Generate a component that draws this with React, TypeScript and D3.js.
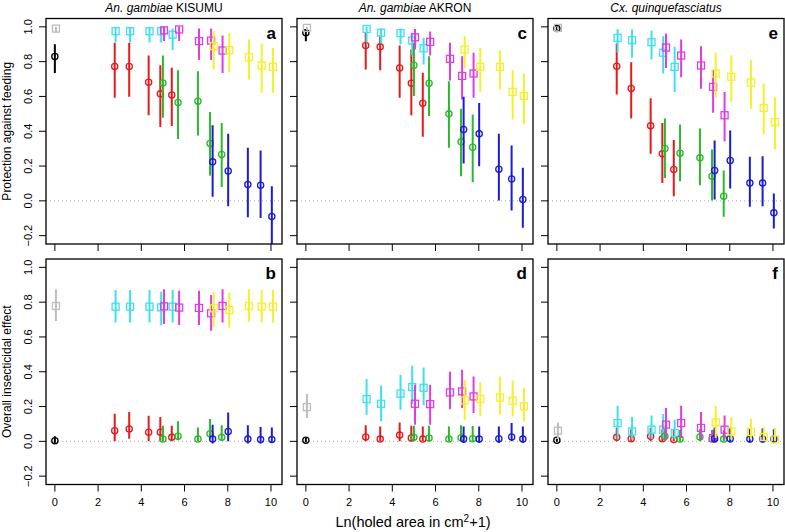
import * as d3 from 'd3'

// x positions (ln(holed area + 1)) for each hole-size series
const xBlack = [0]
const xGrey = [0.05]
const xRed = [2.77, 3.44, 4.34, 4.88, 5.41]
const xCyan = [2.81, 3.48, 4.38, 4.92, 5.45]
const xGreen = [5.0, 5.7, 6.62, 7.18, 7.72]
const xMagenta = [5.05, 5.75, 6.67, 7.23, 7.76]
const xBlue = [7.3, 8.02, 8.93, 9.52, 10.04]
const xYellow = [7.35, 8.07, 8.98, 9.57, 10.09]

// [estimate, lower, upper] for each point
const panelA = {
  black: [[0.83, 0.735, 0.9]],
  grey: [[0.99, 0.965, 1.0]],
  red: [[0.772, 0.592, 0.908], [0.772, 0.598, 0.908], [0.682, 0.492, 0.835], [0.615, 0.425, 0.78], [0.609, 0.43, 0.765]],
  cyan: [[0.975, 0.91, 0.995], [0.975, 0.91, 0.995], [0.975, 0.91, 0.995], [0.975, 0.91, 0.995], [0.955, 0.865, 0.99]],
  green: [[0.678, 0.477, 0.835], [0.565, 0.356, 0.751], [0.573, 0.375, 0.745], [0.33, 0.146, 0.51], [0.266, 0.079, 0.448]],
  magenta: [[0.98, 0.918, 1.0], [0.985, 0.918, 1.0], [0.918, 0.81, 0.99], [0.921, 0.81, 0.99], [0.864, 0.735, 0.95]],
  blue: [[0.224, 0.023, 0.435], [0.172, -0.031, 0.385], [0.094, -0.094, 0.305], [0.09, -0.098, 0.29], [-0.09, -0.3, 0.084]],
  yellow: [[0.889, 0.755, 0.975], [0.866, 0.74, 0.965], [0.826, 0.697, 0.927], [0.778, 0.621, 0.904], [0.77, 0.621, 0.879]],
}
const panelC = {
  black: [[0.966, 0.917, 0.985]],
  grey: [[0.994, 0.98, 1.0]],
  red: [[0.893, 0.755, 0.966], [0.885, 0.751, 0.95], [0.764, 0.592, 0.893], [0.676, 0.492, 0.87], [0.561, 0.368, 0.736]],
  cyan: [[0.988, 0.91, 1.0], [0.966, 0.905, 0.99], [0.964, 0.9, 0.99], [0.921, 0.837, 0.966], [0.877, 0.784, 0.937]],
  green: [[0.78, 0.602, 0.908], [0.676, 0.487, 0.831], [0.5, 0.305, 0.688], [0.339, 0.142, 0.529], [0.308, 0.107, 0.496]],
  magenta: [[0.94, 0.87, 0.988], [0.914, 0.835, 0.973], [0.816, 0.692, 0.908], [0.718, 0.582, 0.831], [0.732, 0.592, 0.851]],
  blue: [[0.41, 0.215, 0.598], [0.385, 0.199, 0.563], [0.182, 0.002, 0.385], [0.126, -0.056, 0.318], [0.008, -0.155, 0.19]],
  yellow: [[0.87, 0.764, 0.946], [0.77, 0.625, 0.879], [0.77, 0.64, 0.866], [0.626, 0.467, 0.751], [0.602, 0.443, 0.732]],
}
const panelE = {
  black: [[0.99, 0.98, 1.0]],
  grey: [[0.994, 0.985, 1.0]],
  red: [[0.774, 0.611, 0.904], [0.646, 0.473, 0.797], [0.431, 0.27, 0.59], [0.27, 0.103, 0.448], [0.18, 0.027, 0.349]],
  cyan: [[0.937, 0.851, 0.988], [0.923, 0.822, 0.985], [0.912, 0.812, 0.979], [0.851, 0.732, 0.946], [0.77, 0.625, 0.885]],
  green: [[0.301, 0.132, 0.473], [0.274, 0.113, 0.439], [0.247, 0.09, 0.416], [0.142, 0.002, 0.295], [0.027, -0.092, 0.174]],
  magenta: [[0.881, 0.764, 0.962], [0.835, 0.711, 0.927], [0.778, 0.644, 0.889], [0.655, 0.506, 0.755], [0.492, 0.343, 0.626]],
  blue: [[0.174, 0.008, 0.347], [0.232, 0.071, 0.404], [0.102, -0.034, 0.253], [0.102, -0.031, 0.257], [-0.069, -0.159, 0.042]],
  yellow: [[0.732, 0.592, 0.851], [0.713, 0.569, 0.835], [0.68, 0.529, 0.808], [0.534, 0.381, 0.674], [0.452, 0.295, 0.596]],
}
const panelB = {
  black: [[0.004, -0.01, 0.029]],
  grey: [[0.778, 0.692, 0.874]],
  red: [[0.061, 0, 0.159], [0.071, 0.015, 0.168], [0.052, 0, 0.147], [0.052, 0, 0.14], [0.023, 0, 0.09]],
  cyan: [[0.774, 0.683, 0.87], [0.774, 0.683, 0.87], [0.774, 0.683, 0.87], [0.77, 0.667, 0.86], [0.774, 0.683, 0.87]],
  green: [[0.013, 0, 0.09], [0.029, 0.006, 0.115], [0.013, 0, 0.08], [0.044, 0.01, 0.128], [0.023, 0.006, 0.092]],
  magenta: [[0.776, 0.675, 0.874], [0.769, 0.669, 0.866], [0.767, 0.669, 0.866], [0.736, 0.635, 0.841], [0.778, 0.683, 0.874]],
  blue: [[0.013, -0.013, 0.096], [0.057, 0, 0.166], [0.013, -0.013, 0.092], [0.01, -0.013, 0.082], [0.01, -0.01, 0.08]],
  yellow: [[0.765, 0.656, 0.86], [0.755, 0.654, 0.855], [0.778, 0.688, 0.874], [0.774, 0.683, 0.87], [0.774, 0.683, 0.87]],
}
const panelD = {
  black: [[0.006, -0.005, 0.02]],
  grey: [[0.197, 0.134, 0.272]],
  red: [[0.025, 0, 0.092], [0.013, 0, 0.086], [0.036, 0, 0.109], [0.019, 0, 0.09], [0.013, 0, 0.086]],
  cyan: [[0.243, 0.153, 0.358], [0.216, 0.115, 0.321], [0.274, 0.182, 0.382], [0.312, 0.216, 0.434], [0.308, 0.207, 0.425]],
  green: [[0.023, 0, 0.09], [0.019, 0, 0.09], [0.013, 0, 0.086], [0.021, 0, 0.092], [0.015, 0, 0.088]],
  magenta: [[0.216, 0.096, 0.325], [0.214, 0.096, 0.325], [0.281, 0.185, 0.4], [0.287, 0.191, 0.411], [0.258, 0.163, 0.373]],
  blue: [[0.013, -0.01, 0.086], [0.013, -0.01, 0.086], [0.015, -0.01, 0.086], [0.025, 0, 0.105], [0.013, -0.01, 0.086]],
  yellow: [[0.235, 0.124, 0.354], [0.243, 0.147, 0.339], [0.252, 0.153, 0.373], [0.233, 0.143, 0.35], [0.201, 0.115, 0.306]],
}
const panelF = {
  black: [[0.006, -0.003, 0.015]],
  grey: [[0.061, 0.013, 0.109]],
  red: [[0.023, 0, 0.077], [0.015, 0, 0.07], [0.029, 0, 0.077], [0.015, 0, 0.07], [0.011, 0, 0.065]],
  cyan: [[0.105, 0.01, 0.205], [0.057, 0.01, 0.14], [0.067, 0.013, 0.149], [0.067, 0.019, 0.157], [0.048, 0.013, 0.124]],
  green: [[0.029, 0, 0.07], [0.013, 0, 0.065], [0.025, 0, 0.07], [0.013, 0, 0.065], [0.013, 0, 0.065]],
  magenta: [[0.096, 0.006, 0.191], [0.105, 0.019, 0.205], [0.077, 0.01, 0.168], [0.019, -0.006, 0.067], [0.067, 0.01, 0.149]],
  blue: [[0.015, -0.006, 0.08], [0.015, -0.006, 0.08], [0.013, -0.006, 0.075], [0.013, -0.006, 0.075], [0.013, -0.006, 0.07]],
  yellow: [[0.109, 0.019, 0.205], [0.057, 0.01, 0.138], [0.054, 0.01, 0.13], [0.025, 0.006, 0.08], [0.011, 0, 0.077]],
}

const xTicks = [0, 2, 4, 6, 8, 10]
const yTicks = [-0.2, 0, 0.2, 0.4, 0.6, 0.8, 1.0]
const rowTitles = ['Protection against feeding', 'Overall insecticidal effect']

const series = [
  { key: 'black', xs: xBlack, color: '#000000', shape: 'circle' },
  { key: 'grey', xs: xGrey, color: '#bdbdbd', shape: 'square' },
  { key: 'red', xs: xRed, color: '#e41a1c', shape: 'circle' },
  { key: 'cyan', xs: xCyan, color: '#3ee0ef', shape: 'square' },
  { key: 'green', xs: xGreen, color: '#2cb82c', shape: 'circle' },
  { key: 'magenta', xs: xMagenta, color: '#e03ce3', shape: 'square' },
  { key: 'blue', xs: xBlue, color: '#1c1cd0', shape: 'circle' },
  { key: 'yellow', xs: xYellow, color: '#f4f02a', shape: 'square' },
]

const panels = [
  { id: 'a', data: panelA, col: 0, row: 0 },
  { id: 'c', data: panelC, col: 1, row: 0 },
  { id: 'e', data: panelE, col: 2, row: 0 },
  { id: 'b', data: panelB, col: 0, row: 1 },
  { id: 'd', data: panelD, col: 1, row: 1 },
  { id: 'f', data: panelF, col: 2, row: 1 },
]

const W = 785
const H = 532
const colLeft = [46, 297, 548]
const panelW = 236
const rowTop = [18.5, 259]
const panelH = 225.5
const font = '"Liberation Sans", Arial, Helvetica, sans-serif'

function Panel({ p }) {
  const x0 = colLeft[p.col]
  const y0 = rowTop[p.row]
  const x = d3.scaleLinear().domain([-0.41, 10.51]).range([x0, x0 + panelW])
  const y = d3.scaleLinear().domain([-0.248, 1.048]).range([y0 + panelH, y0])
  const clipId = `clip-${p.id}`
  return (
    <g>
      <clipPath id={clipId}>
        <rect x={x0} y={y0} width={panelW} height={panelH} />
      </clipPath>
      <line x1={x0} x2={x0 + panelW} y1={y(0)} y2={y(0)} stroke="#aaaaaa" strokeWidth={1} strokeDasharray="1,3" />
      <g clipPath={`url(#${clipId})`}>
        {series.map(s =>
          p.data[s.key].map((d, i) => {
            const cx = x(s.xs[i])
            const cy = y(d[0])
            return (
              <g key={`${s.key}-${i}`}>
                <line x1={cx} x2={cx} y1={y(d[1])} y2={y(d[2])} stroke={s.color} strokeWidth={2} />
                {s.shape === 'circle' ? (
                  <circle cx={cx} cy={cy} r={3.1} fill="none" stroke={s.color} strokeWidth={1.3} />
                ) : (
                  <rect x={cx - 3.5} y={cy - 3.5} width={7} height={7} fill="none" stroke={s.color} strokeWidth={1.3} />
                )}
              </g>
            )
          })
        )}
      </g>
      <rect x={x0} y={y0} width={panelW} height={panelH} fill="none" stroke="#000" strokeWidth={1.3} />
      {xTicks.map(t => (
        <line key={t} x1={x(t)} x2={x(t)} y1={y0 + panelH} y2={y0 + panelH + 7} stroke="#000" strokeWidth={1} />
      ))}
      {yTicks.map(t => (
        <line key={t} x1={x0 - 7} x2={x0} y1={y(t)} y2={y(t)} stroke="#000" strokeWidth={1} />
      ))}
      {p.row === 1 &&
        xTicks.map(t => (
          <text key={t} x={x(t)} y={506} textAnchor="middle" fontSize={11} fill="#000">
            {t}
          </text>
        ))}
      {p.col === 0 &&
        yTicks.map(t => (
          <text
            key={t}
            transform={`translate(32,${y(t)}) rotate(-90)`}
            textAnchor="middle"
            fontSize={11}
            fill="#000"
          >
            {d3.format('.1f')(t)}
          </text>
        ))}
      <text x={x0 + panelW - 6} y={38.5 + (y0 - rowTop[0])} textAnchor="end" fontSize={17} fontWeight="bold" fill="#000">
        {p.id}
      </text>
    </g>
  )
}

export default function App() {
  const cx = i => colLeft[i] + panelW / 2
  return (
    <svg width={W} height={H} style={{ display: 'block', position: 'absolute', left: 0, top: 0 }} fontFamily={font}>
      <rect width={W} height={H} fill="#fff" />
      <text x={cx(0)} y={12} textAnchor="middle" fontSize={12}>
        <tspan fontStyle="italic">An. gambiae</tspan> KISUMU
      </text>
      <text x={cx(1)} y={12} textAnchor="middle" fontSize={12}>
        <tspan fontStyle="italic">An. gambiae</tspan> AKRON
      </text>
      <text x={cx(2)} y={12} textAnchor="middle" fontSize={12} fontStyle="italic">
        Cx. quinquefasciatus
      </text>
      {rowTitles.map((t, i) => (
        <text key={t} transform={`translate(10.5,${rowTop[i] + panelH / 2}) rotate(-90)`} textAnchor="middle" fontSize={12}>
          {t}
        </text>
      ))}
      <text x={413} y={527} textAnchor="middle" fontSize={14.5}>
        Ln(holed area in cm<tspan dy={-5} fontSize={10}>2</tspan><tspan dy={5}>+1)</tspan>
      </text>
      {panels.map(p => (
        <Panel key={p.id} p={p} />
      ))}
    </svg>
  )
}
